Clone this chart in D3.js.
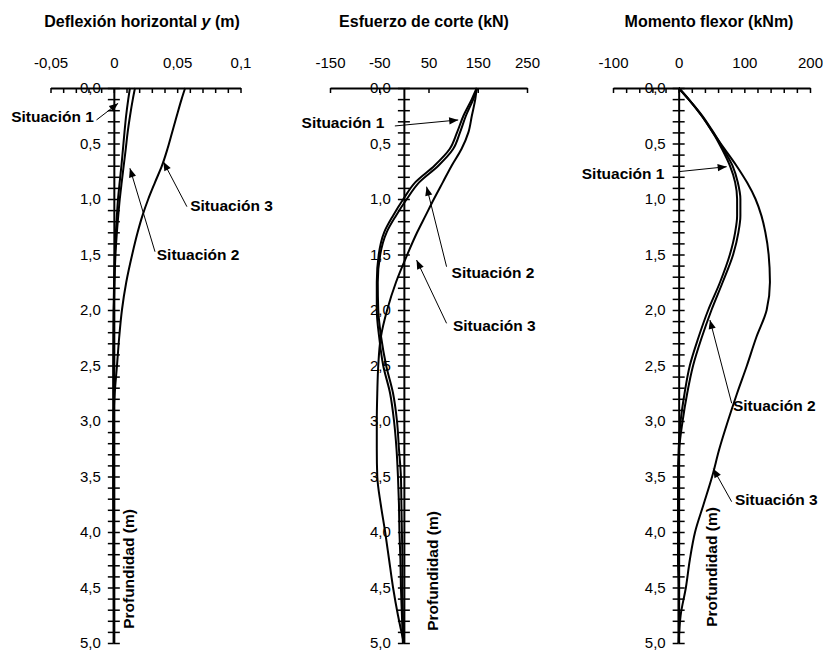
<!DOCTYPE html>
<html><head><meta charset="utf-8">
<script src="https://cdn.jsdelivr.net/npm/d3@7"></script>
<style>
body{margin:0;background:#fff;}
svg{display:block;font-family:"Liberation Sans",Arial,sans-serif;}
</style></head>
<body><svg id="c" width="823" height="652"></svg>
<script>
// ---- data ----
const depth = [0,0.1,0.25,0.4,0.55,0.7,0.85,1.0,1.15,1.3,1.5,1.75,2.0,2.25,2.5,2.75,3.0,3.25,3.5,3.75,4.0,4.25,4.5,4.75,5.0];

const deflSit1 = [0.0127,0.0114,0.0097,0.0084,0.0072,0.0060,0.0046,0.0033,0.0024,0.0016,0.0008,0.0002,-0.0002,-0.0003,-0.0004,-0.0004,-0.0003,-0.0003,-0.0002,-0.0002,-0.0001,-0.0001,0,0,0];
const deflSit2 = [0.0167,0.0150,0.0128,0.0109,0.0094,0.0078,0.0062,0.0047,0.0035,0.0024,0.0013,0.0005,0.0000,-0.0002,-0.0003,-0.0003,-0.0003,-0.0003,-0.0002,-0.0002,-0.0001,-0.0001,0,0,0];
const deflSit3 = [0.0563,0.0535,0.0497,0.0460,0.0423,0.0380,0.0325,0.0272,0.0226,0.0188,0.0145,0.0098,0.0064,0.0042,0.0025,0.0007,-0.0003,-0.0005,-0.0005,-0.0004,-0.0003,-0.0002,-0.0001,0,0];

const shearSit1 = [148,138,121,108,93,62,23,-1,-22,-40,-51,-55,-55,-50,-42,-28,-20,-15,-12,-10,-9,-7,-6,-4,-2];
const shearSit2 = [149,141,126,114,100,70,31,6,-16,-35,-48,-53,-52,-46,-36,-22,-14,-10,-6,-5,-4,-3,-3,-2,-1];
const shearSit3 = [148,145,138,131,117,97,79,61,44,27,7,-16,-34,-47,-52,-54,-55,-55,-54,-47,-38,-30,-22,-12,0];

const momSit1 = [0,15,35,52,66,78,86,89,89,86,78,63,45,30,17,9,3,0,-1,-1,-1,-1,0,0,0];
const momSit2 = [0,15,36,53,68,82,90,94,94,91,83,67,50,35,22,13,6,1,0,0,0,0,0,0,0];
const momSit3 = [0,15,35,52,70,88,104,117,126,132,137,139,134,118,104,89,75,62,51,38,25,17,11,3,0];

const titles = ["Deflexión horizontal ", "Esfuerzo de corte (kN)", "Momento flexor (kNm)"];
const xLabelTicks = [[-0.05,0,0.05,0.1],[-150,-50,50,150,250],[-100,0,100,200]];
const seriesNames = ["Situación 1","Situación 2","Situación 3"];
const depthLabelTicks = [0,0.5,1,1.5,2,2.5,3,3.5,4,4.5,5];
const yTitle = "Profundidad (m)";

// annotations in data units: text start (tx,ty), arrow from (ax,ay) to tip (bx,by)
const annot1 = [
  {t:0, tx:-0.081, ty:0.306, ax:-0.0137, ay:0.288, bx:0.0034, by:0.138},
  {t:1, tx:0.0339, ty:1.55, ax:0.0325, ay:1.475, bx:0.0127, by:0.723},
  {t:2, tx:0.0603, ty:1.108, ax:0.0577, ay:1.069, bx:0.0391, by:0.664}
];
const annot2 = [
  {t:0, tx:-207.7, ty:0.36, ax:-18.3, ay:0.342, bx:110.3, by:0.288},
  {t:1, tx:96.9, ty:1.712, ax:86.7, ay:1.61, bx:46.1, by:0.889},
  {t:2, tx:99.5, ty:2.189, ax:86.7, ay:2.12, bx:25.8, by:1.55}
];
const annot3 = [
  {t:0, tx:-147.6, ty:0.82, ax:-0.6, ay:0.754, bx:73.1, by:0.709},
  {t:1, tx:82.6, ty:2.91, ax:80.7, ay:2.84, bx:47.6, by:2.09},
  {t:2, tx:85.7, ty:3.757, ax:80.7, ay:3.727, bx:52.7, by:3.43}
];

// ---- layout ----
const svg = d3.select("#c");
svg.append("defs").append("marker")
  .attr("id","ah").attr("markerUnits","userSpaceOnUse")
  .attr("viewBox","0 -5 10 10").attr("refX",10).attr("refY",0)
  .attr("markerWidth",10).attr("markerHeight",9).attr("orient","auto")
  .append("path").attr("d","M0,-4L10,0L0,4Z").attr("fill","#000");

const y = d3.scaleLinear().domain([0,5]).range([88,643]);

const panels = [
  {x: d3.scaleLinear().domain([-0.05,0.1]).range([50.5,240.5]), minor: d3.range(-5,11,1).map(i=>i/100),
   series:[deflSit1,deflSit2,deflSit3], annot:annot1, titleX:142, italicY:true, yTitleX:133.5, yTitleY:569,
   fmt:d=>String(d).replace(".",",")},
  {x: d3.scaleLinear().domain([-150,250]).range([330,527]), minor:[-150,-50,50,150,250],
   series:[shearSit1,shearSit2,shearSit3], annot:annot2, titleX:424, yTitleX:438, yTitleY:571,
   fmt:d=>String(d)},
  {x: d3.scaleLinear().domain([-100,200]).range([613,810]), minor: d3.range(-100,201,20),
   series:[momSit1,momSit2,momSit3], annot:annot3, titleX:709, yTitleX:717, yTitleY:567,
   fmt:d=>String(d)}
];

const depthFmt = d=>d3.format(".1f")(d).replace(".",",");
const minorDepth = d3.range(0,51,1).map(i=>i/10);

panels.forEach((p,i)=>{
  const g = svg.append("g");
  // title
  const tt = g.append("text").attr("x",p.titleX).attr("y",27).attr("text-anchor","middle")
    .attr("font-weight","bold").attr("font-size","16px").text(titles[i]);
  if (p.italicY){
    tt.append("tspan").attr("font-style","italic").text("y");
    tt.append("tspan").text(" (m)");
  }
  // x axis line + ticks (downwards)
  const xa = g.append("g").attr("transform",`translate(0,${y(0)})`)
    .call(d3.axisBottom(p.x).tickValues(p.minor).tickSize(5).tickSizeOuter(0).tickFormat(""));
  xa.select(".domain").attr("stroke-width",2);
  xa.selectAll(".tick line").attr("stroke-width",1.5);
  // x labels above
  const xl = g.append("g").attr("transform",`translate(0,${y(0)})`)
    .call(d3.axisTop(p.x).tickValues(xLabelTicks[i]).tickSize(0).tickPadding(20).tickFormat(p.fmt));
  xl.select(".domain").remove();
  xl.selectAll("text").attr("font-size","15px").attr("font-family","Liberation Sans, Arial, sans-serif").attr("fill","#000");

  // curves
  const line = d3.line().x(d=>p.x(d[1])).y(d=>y(d[0])).curve(d3.curveMonotoneY);
  p.series.forEach(s=>{
    g.append("path").datum(depth.map((d,k)=>[d,s[k]])).attr("d",line)
      .attr("fill","none").attr("stroke","#000").attr("stroke-width",2);
  });

  // y axis at x=0 with crossing ticks
  const x0 = p.x(0);
  const yl = g.append("g").attr("transform",`translate(${x0},0)`)
    .call(d3.axisLeft(y).tickValues(minorDepth).tickSize(6).tickSizeOuter(0).tickFormat(""));
  yl.select(".domain").attr("stroke-width",2);
  yl.selectAll(".tick line").attr("stroke-width",1.5);
  const yr = g.append("g").attr("transform",`translate(${x0},0)`)
    .call(d3.axisRight(y).tickValues(minorDepth).tickSize(6).tickSizeOuter(0).tickFormat(""));
  yr.select(".domain").remove();
  yr.selectAll(".tick line").attr("stroke-width",1.5);
  const ylab = g.append("g").attr("transform",`translate(${x0},0)`)
    .call(d3.axisLeft(y).tickValues(depthLabelTicks).tickSize(0).tickPadding(13).tickFormat(depthFmt));
  ylab.select(".domain").remove();
  ylab.selectAll("text").attr("font-size","15px").attr("font-family","Liberation Sans, Arial, sans-serif").attr("fill","#000");

  // y title
  g.append("text").attr("transform",`translate(${p.yTitleX},${p.yTitleY}) rotate(-90)`)
    .attr("text-anchor","middle").attr("font-weight","bold").attr("font-size","15.5px").text(yTitle);

  // annotations
  p.annot.forEach(a=>{
    g.append("line").attr("x1",p.x(a.ax)).attr("y1",y(a.ay)).attr("x2",p.x(a.bx)).attr("y2",y(a.by))
      .attr("stroke","#000").attr("stroke-width",1).attr("marker-end","url(#ah)");
    g.append("text").attr("x",p.x(a.tx)).attr("y",y(a.ty)).attr("font-weight","bold")
      .attr("font-size","15.5px").text(seriesNames[a.t]);
  });
});
</script></body></html>
